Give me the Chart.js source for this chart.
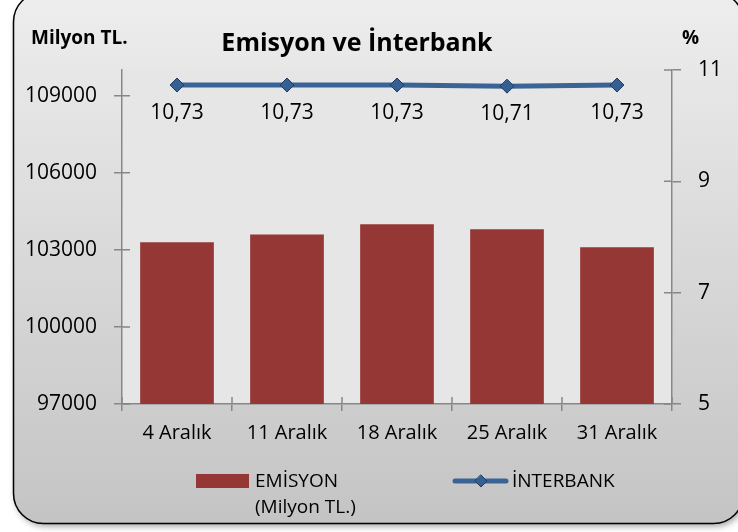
<!DOCTYPE html>
<html>
<head>
<meta charset="utf-8">
<script src="https://cdn.jsdelivr.net/npm/chart.js@4.4.1/dist/chart.umd.min.js"></script>
<style>
  html, body { margin: 0; padding: 0; background: #fff; }
  #wrap { width: 738px; height: 532px; }
</style>
</head>
<body>
<div id="wrap"><canvas id="chart" width="738" height="532"></canvas></div>
<script>
var categories = ["4 Aralık", "11 Aralık", "18 Aralık", "25 Aralık", "31 Aralık"];
var emisyonValues = [103300, 103600, 104000, 103800, 103100];
var interbankValues = [10.73, 10.73, 10.73, 10.71, 10.73];
var leftTicks = [97000, 100000, 103000, 106000, 109000];
var rightTicks = [5, 7, 9, 11];

var FONT = "'Open Sans', 'Noto Sans', sans-serif";
var AXIS_GRAY = "#878787";

function roundRectPath(ctx, x, y, w, h, r) {
  ctx.beginPath();
  ctx.moveTo(x + r, y);
  ctx.lineTo(x + w - r, y);
  ctx.arcTo(x + w, y, x + w, y + r, r);
  ctx.lineTo(x + w, y + h - r);
  ctx.arcTo(x + w, y + h, x + w - r, y + h, r);
  ctx.lineTo(x + r, y + h);
  ctx.arcTo(x, y + h, x, y + h - r, r);
  ctx.lineTo(x, y + r);
  ctx.arcTo(x, y, x + r, y, r);
  ctx.closePath();
}

// frame, background gradient and plot area fill
var backgroundPlugin = {
  id: "background",
  beforeDraw: function (chart) {
    var ctx = chart.ctx;
    var area = chart.chartArea;
    ctx.save();
    ctx.fillStyle = "#ffffff";
    ctx.fillRect(0, 0, chart.width, chart.height);

    var grad = ctx.createLinearGradient(0, 0, 0, 524);
    grad.addColorStop(0, "#ededed");
    grad.addColorStop(1, "#c4c4c4");

    ctx.shadowColor = "rgba(0,0,0,0.35)";
    ctx.shadowBlur = 6;
    ctx.shadowOffsetX = 2;
    ctx.shadowOffsetY = 3;
    roundRectPath(ctx, 13.5, -8, 730, 531.5, 30);
    ctx.fillStyle = grad;
    ctx.fill();
    ctx.shadowColor = "transparent";
    ctx.lineWidth = 1.5;
    ctx.strokeStyle = "#000";
    ctx.stroke();

    ctx.fillStyle = "#e6e6e6";
    ctx.fillRect(area.left, area.top, area.right - area.left, area.bottom - area.top);
    ctx.restore();
  }
};

// inner half of the crossing tick marks
var crossTicksPlugin = {
  id: "crossTicks",
  afterDraw: function (chart) {
    var ctx = chart.ctx;
    var area = chart.chartArea;
    var sy = chart.scales.y;
    var sy1 = chart.scales.y1;
    var sx = chart.scales.x;
    ctx.save();
    ctx.strokeStyle = AXIS_GRAY;
    ctx.lineWidth = 1.5;
    ctx.beginPath();
    sy.ticks.forEach(function (t, i) {
      var py = sy.getPixelForTick(i);
      ctx.moveTo(area.left, py);
      ctx.lineTo(area.left + 8, py);
    });
    sy1.ticks.forEach(function (t, i) {
      var py = sy1.getPixelForTick(i);
      ctx.moveTo(area.right, py);
      ctx.lineTo(area.right - 8, py);
    });
    var n = categories.length;
    var step = (sx.right - sx.left) / n;
    for (var i = 0; i <= n; i++) {
      var px = sx.left + i * step;
      ctx.moveTo(px, area.bottom);
      ctx.lineTo(px, area.bottom - 7);
    }
    ctx.stroke();
    ctx.restore();
  }
};

// value labels under the line points
var valueLabelsPlugin = {
  id: "valueLabels",
  afterDatasetsDraw: function (chart) {
    var ctx = chart.ctx;
    var meta = chart.getDatasetMeta(0);
    ctx.save();
    ctx.fillStyle = "#000";
    ctx.font = "21px " + FONT;
    ctx.textAlign = "center";
    ctx.textBaseline = "middle";
    meta.data.forEach(function (pt, i) {
      var txt = interbankValues[i].toFixed(2).replace(".", ",");
      ctx.fillText(txt, pt.x, pt.y + 28);
    });
    ctx.restore();
  }
};

// titles and legend
var textPlugin = {
  id: "texts",
  afterDraw: function (chart) {
    var ctx = chart.ctx;
    ctx.save();
    ctx.fillStyle = "#000";
    ctx.textBaseline = "alphabetic";

    ctx.font = "bold 19px " + FONT;
    ctx.textAlign = "left";
    ctx.fillText("Milyon TL.", 31, 44);
    ctx.fillText("%", 682, 44);

    ctx.font = "bold 25px " + FONT;
    ctx.textAlign = "center";
    ctx.fillText("Emisyon ve İnterbank", 357, 51);

    var barDs = chart.data.datasets[1];
    var lineDs = chart.data.datasets[0];
    ctx.font = "19px " + FONT;
    ctx.textAlign = "left";
    ctx.textBaseline = "middle";

    ctx.fillStyle = barDs.backgroundColor;
    ctx.fillRect(196, 474, 53, 14);
    ctx.fillStyle = "#000";
    barDs.label.forEach(function (line, i) {
      ctx.fillText(line, 255, 482 + i * 26);
    });

    ctx.strokeStyle = lineDs.borderColor;
    ctx.lineWidth = 5;
    ctx.lineCap = "round";
    ctx.beginPath();
    ctx.moveTo(455, 481);
    ctx.lineTo(506, 481);
    ctx.stroke();
    ctx.beginPath();
    ctx.moveTo(481, 475);
    ctx.lineTo(487, 481);
    ctx.lineTo(481, 487);
    ctx.lineTo(475, 481);
    ctx.closePath();
    ctx.fillStyle = lineDs.pointBackgroundColor;
    ctx.fill();
    ctx.lineWidth = 1;
    ctx.strokeStyle = lineDs.pointBorderColor;
    ctx.stroke();
    ctx.fillStyle = "#000";
    ctx.fillText(lineDs.label, 512, 482);
    ctx.restore();
  }
};

document.addEventListener("DOMContentLoaded", function () {
  var canvas = document.getElementById("chart");
  var ctx = canvas.getContext("2d");

  new Chart(ctx, {
    type: "bar",
    data: {
      labels: categories,
      datasets: [
        {
          type: "line",
          label: "İNTERBANK",
          data: interbankValues,
          yAxisID: "y1",
          borderColor: "#3a6496",
          borderWidth: 5,
          pointStyle: "rectRot",
          pointRadius: 7,
          pointBackgroundColor: "#376092",
          pointBorderColor: "#1f3c63",
          pointBorderWidth: 1,
          tension: 0,
          order: 0
        },
        {
          type: "bar",
          label: ["EMİSYON", "(Milyon TL.)"],
          data: emisyonValues,
          yAxisID: "y",
          backgroundColor: "#953735",
          barPercentage: 0.67,
          categoryPercentage: 1,
          order: 1
        }
      ]
    },
    options: {
      responsive: false,
      devicePixelRatio: 1,
      animation: false,
      layout: { padding: { top: 70, bottom: 68, left: 0, right: 0 } },
      plugins: {
        legend: { display: false },
        tooltip: { enabled: false },
        title: { display: false }
      },
      scales: {
        x: {
          offset: true,
          grid: { drawOnChartArea: false, offset: true, tickLength: 7, color: AXIS_GRAY, lineWidth: 1.5 },
          border: { color: AXIS_GRAY, width: 1.5 },
          ticks: { color: "#000", font: { family: FONT, size: 20 }, padding: 10, maxRotation: 0 },
          afterFit: function (s) { s.height = 60; }
        },
        y: {
          position: "left",
          min: 97000,
          max: 110000,
          afterBuildTicks: function (s) {
            s.ticks = leftTicks.map(function (v) { return { value: v }; });
          },
          afterFit: function (s) { s.width = 122; },
          grid: { drawOnChartArea: false, tickLength: 8, color: AXIS_GRAY, lineWidth: 1.5 },
          border: { color: AXIS_GRAY, width: 1.5 },
          ticks: {
            color: "#000",
            font: { family: FONT, size: 21 },
            padding: 17,
            callback: function (v) { return String(v); }
          }
        },
        y1: {
          position: "right",
          min: 5,
          max: 11,
          afterBuildTicks: function (s) {
            s.ticks = rightTicks.map(function (v) { return { value: v }; });
          },
          afterFit: function (s) { s.width = 66; },
          grid: { drawOnChartArea: false, tickLength: 9, color: AXIS_GRAY, lineWidth: 1.5 },
          border: { color: AXIS_GRAY, width: 1.5 },
          ticks: { color: "#000", font: { family: FONT, size: 21 }, padding: 17 }
        }
      }
    },
    plugins: [backgroundPlugin, crossTicksPlugin, valueLabelsPlugin, textPlugin]
  });
});
</script>
</body>
</html>
